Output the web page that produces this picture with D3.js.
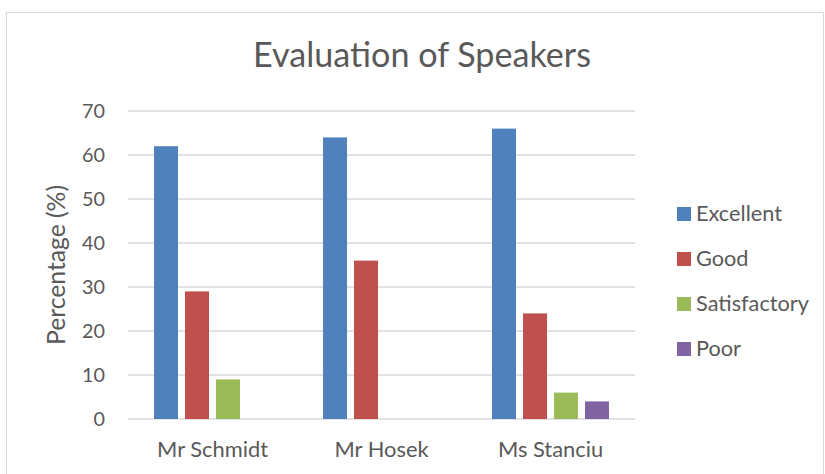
<!DOCTYPE html>
<html>
<head>
<meta charset="utf-8">
<script src="https://cdn.jsdelivr.net/npm/d3@7"></script>
<style>
  body { margin: 0; background: #fff; }
  text { font-family: Lato, "Open Sans", sans-serif; fill: #595959; }
</style>
</head>
<body>
<div id="chart"></div>
<script>
var speakers = ["Mr Schmidt", "Mr Hosek", "Ms Stanciu"];
var ratings = ["Excellent", "Good", "Satisfactory", "Poor"];
var excellent = [62, 64, 66];
var good = [29, 36, 24];
var satisfactory = [9, 0, 6];
var poor = [0, 0, 4];
var yTicks = [0, 10, 20, 30, 40, 50, 60, 70];
var colors = ["#4F81BD", "#C0504D", "#9BBB59", "#8064A2"];

var series = [excellent, good, satisfactory, poor];

var W = 825, H = 474;
var margin = {top: 111, left: 128, right: 190, bottom: 55};
var width = W - margin.left - margin.right,
    height = H - margin.top - margin.bottom;

var svg = d3.select("#chart").append("svg")
  .attr("width", W).attr("height", H);

// font size that makes a sample string a given width
function fitSize(sample, target) {
  var t = svg.append("text").style("font-size", "100px").text(sample);
  var w = t.node().getComputedTextLength();
  t.remove();
  return (100 * target / w) + "px";
}

// chart border
svg.append("rect")
  .attr("x", 6.5).attr("y", 12.5)
  .attr("width", 817).attr("height", H + 10)
  .attr("fill", "none").attr("stroke", "#D9D9D9");

var g = svg.append("g")
  .attr("transform", "translate(" + margin.left + "," + margin.top + ")");

var x0 = d3.scaleBand().domain(speakers).range([0, width]);
var x1 = d3.scaleBand().domain(ratings).range([0, x0.bandwidth()])
  .paddingInner(0.226).paddingOuter(0.84);
var y = d3.scaleLinear().domain([0, 70]).range([height, 0]);

// gridlines
g.append("g")
  .selectAll("line")
  .data(yTicks)
  .enter().append("line")
    .attr("x1", 0).attr("x2", width)
    .attr("y1", function(d) { return y(d); })
    .attr("y2", function(d) { return y(d); })
    .attr("stroke", "#D9D9D9").attr("stroke-width", 1.5);

// y axis labels
var tickSize = fitSize("70", 23);
g.append("g")
  .call(d3.axisLeft(y).tickValues(yTicks).tickSize(0).tickPadding(23))
  .call(function(a) { a.select(".domain").remove(); })
  .selectAll("text")
    .style("font-size", tickSize)
    .style("font-family", "Lato, 'Open Sans', sans-serif")
    .style("fill", "#595959");

// x axis labels
var catSize = fitSize("Mr Schmidt", 111);
g.append("g")
  .attr("transform", "translate(0," + height + ")")
  .call(d3.axisBottom(x0).tickSize(0).tickPadding(22))
  .call(function(a) { a.select(".domain").remove(); })
  .selectAll("text")
    .style("font-size", catSize)
    .style("font-family", "Lato, 'Open Sans', sans-serif")
    .style("fill", "#595959");

// bars
var groups = g.selectAll(".grp")
  .data(speakers)
  .enter().append("g")
    .attr("transform", function(d) { return "translate(" + x0(d) + ",0)"; });

groups.selectAll("rect")
  .data(function(d, i) {
    return ratings.map(function(r, j) { return {r: r, v: series[j][i], c: colors[j]}; });
  })
  .enter().append("rect")
    .attr("x", function(d) { return x1(d.r); })
    .attr("y", function(d) { return y(d.v); })
    .attr("width", x1.bandwidth())
    .attr("height", function(d) { return height - y(d.v); })
    .attr("fill", function(d) { return d.c; });

// title
svg.append("text")
  .attr("x", 422).attr("y", 67)
  .attr("text-anchor", "middle")
  .style("font-size", fitSize("Evaluation of Speakers", 338))
  .text("Evaluation of Speakers");

// y title
svg.append("text")
  .attr("transform", "translate(65,265) rotate(-90)")
  .attr("text-anchor", "middle")
  .style("font-size", fitSize("Percentage (%)", 160))
  .text("Percentage (%)");

// legend
var legSize = fitSize("Satisfactory", 113);
var legend = svg.append("g").attr("transform", "translate(677,207)");
var item = legend.selectAll("g")
  .data(ratings)
  .enter().append("g")
    .attr("transform", function(d, i) { return "translate(0," + (i * 45) + ")"; });
item.append("rect")
  .attr("width", 14).attr("height", 14)
  .attr("fill", function(d, i) { return colors[i]; });
item.append("text")
  .attr("x", 19).attr("y", 14)
  .style("font-size", legSize)
  .text(function(d) { return d; });
</script>
</body>
</html>
